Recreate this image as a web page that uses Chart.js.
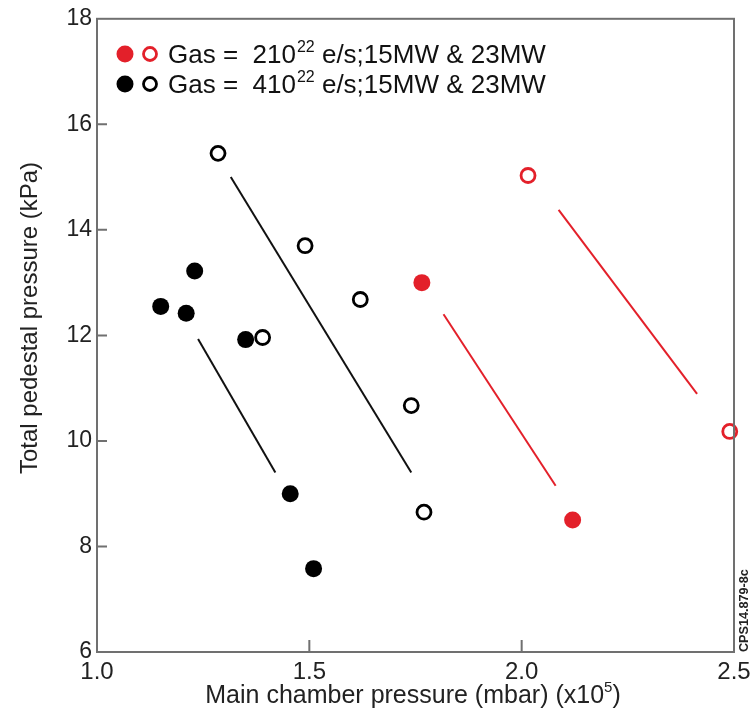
<!DOCTYPE html>
<html>
<head>
<meta charset="utf-8">
<script src="https://cdn.jsdelivr.net/npm/chart.js@4"></script>
<style>
  html, body { margin: 0; padding: 0; background: #fff; }
  #wrap { width: 752px; height: 720px; position: relative; }
</style>
</head>
<body>
<div id="wrap"><canvas id="chart" width="752" height="720"></canvas></div>
<script>
// ===== data =====
const blackFilledX = [1.15, 1.21, 1.23, 1.35, 1.455, 1.51];
const blackFilledY = [12.55, 12.42, 13.22, 11.92, 9.0, 7.58];
const blackOpenX = [1.285, 1.49, 1.39, 1.62, 1.74, 1.77];
const blackOpenY = [15.45, 13.7, 11.96, 12.68, 10.67, 8.65];
const redFilledX = [1.765, 2.12];
const redFilledY = [13.0, 8.5];
const redOpenX = [2.015, 2.49];
const redOpenY = [15.03, 10.18];

// trend lines (two ends each)
const blackShortX = [1.238, 1.42], blackShortY = [11.93, 9.4];
const blackLongX = [1.315, 1.74], blackLongY = [15.0, 9.4];
const redShortX = [1.816, 2.08], redShortY = [12.4, 9.15];
const redLongX = [2.087, 2.413], redLongY = [14.38, 10.89];

const xTicks = [1.0, 1.5, 2.0, 2.5];
const yTicks = [6, 8, 10, 12, 14, 16, 18];

const RED = "#e3202a";
const AXIS = "#707070";
const SANS = "'Liberation Sans', Arial, sans-serif";

function pts(xs, ys) {
  return xs.map((x, i) => ({ x, y: ys[i] }));
}

function dots(xs, ys, color, filled) {
  return {
    type: "scatter", data: pts(xs, ys), clip: false,
    pointRadius: filled ? 8.5 : 7,
    pointBorderWidth: filled ? 0 : 2.8,
    pointBackgroundColor: filled ? color : "#fff",
    pointBorderColor: color,
  };
}

function line(xs, ys, color) {
  return {
    type: "line", data: pts(xs, ys), showLine: true,
    borderColor: color, borderWidth: 2, pointRadius: 0, fill: false,
  };
}

// frame, inside ticks, titles and legend
const extras = {
  id: "extras",
  afterDraw(c) {
    const ctx = c.ctx, a = c.chartArea;
    const xs = c.scales.x, ys = c.scales.y;
    ctx.save();
    ctx.strokeStyle = AXIS;
    ctx.lineWidth = 2;
    ctx.strokeRect(a.left, a.top, a.right - a.left, a.bottom - a.top);
    ctx.beginPath();
    yTicks.slice(1, -1).forEach((v) => {
      const y = ys.getPixelForValue(v);
      ctx.moveTo(a.left, y); ctx.lineTo(a.left + 10, y);
    });
    xTicks.slice(1, -1).forEach((v) => {
      const x = xs.getPixelForValue(v);
      ctx.moveTo(x, a.bottom); ctx.lineTo(x, a.bottom - 12);
    });
    ctx.stroke();

    // x title with superscript
    ctx.fillStyle = "#222";
    ctx.textBaseline = "alphabetic";
    ctx.textAlign = "left";
    const t1 = "Main chamber pressure (mbar) (x10";
    ctx.font = "25px " + SANS;
    const w1 = ctx.measureText(t1).width;
    const w3 = ctx.measureText(")").width;
    ctx.font = "15px " + SANS;
    const w2 = ctx.measureText("5").width;
    let x0 = 413 - (w1 + w2 + w3) / 2;
    ctx.font = "25px " + SANS;
    ctx.fillText(t1, x0, 703);
    ctx.fillText(")", x0 + w1 + w2, 703);
    ctx.font = "15px " + SANS;
    ctx.fillText("5", x0 + w1, 692);

    // y title
    ctx.save();
    ctx.translate(37, 318);
    ctx.rotate(-Math.PI / 2);
    ctx.textAlign = "center";
    ctx.font = "24px " + SANS;
    ctx.fillText("Total pedestal pressure (kPa)", 0, 0);
    ctx.restore();

    // side code
    ctx.save();
    ctx.translate(748, 652);
    ctx.rotate(-Math.PI / 2);
    ctx.textAlign = "left";
    ctx.font = "bold 12px " + SANS;
    ctx.scale(1.05, 1);
    ctx.fillText("CPS14.879-8c", 0, 0);
    ctx.restore();

    // legend
    const rows = [
      { color: RED, lead: "Gas =  210", y: 54 },
      { color: "#000", lead: "Gas =  410", y: 84 },
    ];
    rows.forEach((r) => {
      ctx.fillStyle = r.color;
      ctx.beginPath(); ctx.arc(125, r.y, 8.5, 0, Math.PI * 2); ctx.fill();
      ctx.strokeStyle = r.color; ctx.lineWidth = 2.8;
      ctx.beginPath(); ctx.arc(150, r.y, 6.5, 0, Math.PI * 2); ctx.stroke();
      ctx.fillStyle = "#111";
      ctx.textBaseline = "alphabetic";
      ctx.font = "26px " + SANS;
      const base = r.y + 9;
      ctx.fillText(r.lead, 168, base);
      let w = ctx.measureText(r.lead).width;
      ctx.font = "16px " + SANS;
      ctx.fillText("22", 169 + w, base - 11);
      w += ctx.measureText("22").width + 1;
      ctx.font = "26px " + SANS;
      ctx.fillText(" e/s;15MW & 23MW", 168 + w, base);
    });
    ctx.restore();
  },
};

new Chart(document.getElementById("chart"), {
  data: {
    datasets: [
      line(blackShortX, blackShortY, "#111"),
      line(blackLongX, blackLongY, "#111"),
      line(redShortX, redShortY, RED),
      line(redLongX, redLongY, RED),
      dots(blackFilledX, blackFilledY, "#000", true),
      dots(blackOpenX, blackOpenY, "#000", false),
      dots(redFilledX, redFilledY, RED, true),
      dots(redOpenX, redOpenY, RED, false),
    ],
  },
  options: {
    responsive: false, animation: false,
    layout: { padding: { top: 18, right: 0, left: 0, bottom: 0 } },
    plugins: { legend: { display: false }, tooltip: { enabled: false } },
    scales: {
      x: {
        type: "linear", min: 1.0, max: 2.5,
        afterBuildTicks: (s) => { s.ticks = xTicks.map((v) => ({ value: v })); },
        afterFit: (s) => { s.height = 68; s.paddingRight = 18; },
        grid: { display: false, drawTicks: false },
        border: { display: false },
        ticks: { padding: 6, color: "#222", font: { family: SANS, size: 24 }, callback: (v) => v.toFixed(1) },
      },
      y: {
        type: "linear", min: 6, max: 18,
        afterBuildTicks: (s) => { s.ticks = yTicks.map((v) => ({ value: v })); },
        afterFit: (s) => { s.width = 97; },
        grid: { display: false, drawTicks: false },
        border: { display: false },
        ticks: { padding: 5, color: "#222", font: { family: SANS, size: 23 } },
      },
    },
  },
  plugins: [extras],
});
</script>
</body>
</html>
